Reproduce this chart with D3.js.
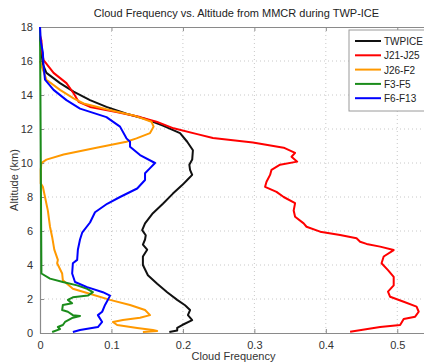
<!DOCTYPE html>
<html>
<head>
<meta charset="utf-8">
<script src="https://cdn.jsdelivr.net/npm/d3@7"></script>
<style>
  html, body { margin: 0; padding: 0; background: #fff; overflow: hidden; }
  svg { display: block; font-family: "Liberation Sans", Arial, sans-serif; }
</style>
</head>
<body>
<svg id="chart" width="424" height="364"></svg>
<script>
// Series names and colours, in drawing order
const seriesNames = ["TWPICE", "J21-J25", "J26-F2", "F3-F5", "F6-F13"];
const seriesColors = ["#111111", "#ff0000", "#ff9900", "#1a8c1a", "#0000ff"];

// Altitude (km) / cloud frequency profiles
const twpiceAlt = [17.4, 16.5, 15.8, 15.3, 14.7, 14.2, 13.7, 13.3, 12.9, 12.57, 12.2, 11.76, 11.25, 10.75, 10.2, 9.9, 9.6, 9.3, 9.0, 8.7, 8.2, 7.6, 7.05, 6.45, 6.05, 5.75, 5.5, 5.2, 4.9, 4.5, 4.0, 3.4, 2.9, 2.4, 1.95, 1.63, 1.35, 1.05, 0.76, 0.47, 0.3, 0.15, 0.06];
const twpiceVal = [0, 0.002, 0.004, 0.009, 0.028, 0.047, 0.07, 0.093, 0.121, 0.149, 0.172, 0.196, 0.206, 0.214, 0.213, 0.209, 0.21, 0.213, 0.206, 0.199, 0.186, 0.172, 0.158, 0.147, 0.143, 0.148, 0.147, 0.144, 0.15, 0.144, 0.144, 0.151, 0.164, 0.178, 0.192, 0.203, 0.21, 0.207, 0.213, 0.199, 0.192, 0.192, 0.181];

const j21Alt = [17.5, 17.2, 16.5, 16.05, 15.3, 14.7, 14.1, 13.6, 13.3, 13.0, 12.7, 12.43, 12.04, 11.7, 11.47, 11.2, 10.9, 10.6, 10.37, 10.08, 9.9, 9.6, 9.3, 8.9, 8.6, 8.3, 8.0, 7.64, 7.2, 6.84, 6.45, 6.25, 5.96, 5.76, 5.57, 5.37, 5.24, 5.08, 4.88, 4.5, 4.1, 3.7, 3.3, 2.8, 2.43, 2.13, 1.84, 1.55, 1.25, 0.96, 0.82, 0.47, 0.35, 0.08];
const j21Val = [0, 0.002, 0.003, 0.005, 0.019, 0.037, 0.047, 0.054, 0.07, 0.107, 0.14, 0.163, 0.187, 0.22, 0.242, 0.298, 0.341, 0.357, 0.352, 0.36, 0.336, 0.324, 0.322, 0.317, 0.315, 0.331, 0.341, 0.357, 0.355, 0.357, 0.369, 0.373, 0.392, 0.42, 0.443, 0.448, 0.457, 0.476, 0.495, 0.481, 0.478, 0.487, 0.495, 0.495, 0.487, 0.49, 0.509, 0.527, 0.53, 0.525, 0.509, 0.504, 0.476, 0.434];

const j26Alt = [16.0, 15.5, 14.9, 14.3, 13.8, 13.5, 13.16, 12.8, 12.43, 12.14, 11.76, 11.45, 11.25, 10.9, 10.5, 10.2, 10.0, 9.6, 8.8, 8.6, 8.0, 7.2, 6.25, 5.65, 4.9, 4.3, 4.1, 3.5, 3.1, 2.6, 2.35, 1.95, 1.65, 1.35, 1.05, 0.9, 0.76, 0.65, 0.47, 0.3, 0.18, 0.12, 0.06];
const j26Val = [0, 0.004, 0.009, 0.028, 0.047, 0.061, 0.093, 0.131, 0.156, 0.159, 0.154, 0.135, 0.121, 0.079, 0.033, 0.009, 0.002, 0.001, 0.001, 0.004, 0.007, 0.011, 0.014, 0.017, 0.02, 0.025, 0.024, 0.031, 0.032, 0.046, 0.066, 0.098, 0.126, 0.147, 0.154, 0.14, 0.116, 0.102, 0.108, 0.136, 0.158, 0.164, 0.144];

const f3Alt = [18.0, 3.5, 3.2, 3.0, 2.8, 2.6, 2.4, 2.2, 2.1, 1.95, 1.75, 1.65, 1.35, 1.25, 1.05, 1.0, 0.9, 0.65, 0.47, 0.35, 0.23, 0.06];
const f3Val = [0, 0.002, 0.014, 0.032, 0.052, 0.066, 0.074, 0.067, 0.046, 0.039, 0.045, 0.032, 0.031, 0.039, 0.046, 0.056, 0.046, 0.035, 0.032, 0.025, 0.028, 0.017];

const f6Alt = [18.0, 17.2, 16.5, 15.7, 14.9, 14.3, 13.7, 13.2, 12.7, 12.14, 11.45, 11.25, 10.96, 10.47, 10.0, 9.7, 9.4, 9.0, 8.5, 8.0, 7.6, 7.1, 6.5, 5.9, 5.5, 4.9, 4.3, 4.1, 3.5, 3.0, 2.7, 2.4, 2.2, 1.95, 1.65, 1.25, 1.05, 0.65, 0.35, 0.18, 0.06];
const f6Val = [0, 0.001, 0.004, 0.005, 0.007, 0.019, 0.037, 0.056, 0.093, 0.112, 0.121, 0.126, 0.126, 0.14, 0.161, 0.154, 0.147, 0.147, 0.136, 0.112, 0.094, 0.077, 0.07, 0.059, 0.056, 0.053, 0.052, 0.046, 0.045, 0.049, 0.066, 0.088, 0.098, 0.095, 0.091, 0.087, 0.081, 0.087, 0.081, 0.056, 0.046];

const seriesAlts = [twpiceAlt, j21Alt, j26Alt, f3Alt, f6Alt];
const seriesVals = [twpiceVal, j21Val, j26Val, f3Val, f6Val];

// Axis ticks and labels
const xTicks = [0, 0.1, 0.2, 0.3, 0.4, 0.5];
const yTicks = [0, 2, 4, 6, 8, 10, 12, 14, 16, 18];
const titleText = "Cloud Frequency vs. Altitude from MMCR during TWP-ICE";
const xLabel = "Cloud Frequency";
const yLabel = "Altitude (km)";

const margin = { left: 40, top: 27 };
const plotW = 393, plotH = 306;

const svg = d3.select("#chart");
const g = svg.append("g").attr("transform", `translate(${margin.left},${margin.top})`);

const x = d3.scaleLinear().domain([0, 0.55]).range([0, plotW]);
const y = d3.scaleLinear().domain([0, 18]).range([plotH, 0]);

// Dotted grid
g.append("g").selectAll("line").data(xTicks.slice(1)).join("line")
  .attr("x1", d => x(d)).attr("x2", d => x(d)).attr("y1", 0).attr("y2", plotH)
  .attr("stroke", "#c8c8c8").attr("stroke-width", 1).attr("stroke-dasharray", "1,3");
g.append("g").selectAll("line").data(yTicks.slice(1, -1)).join("line")
  .attr("x1", 0).attr("x2", plotW).attr("y1", d => y(d)).attr("y2", d => y(d))
  .attr("stroke", "#c8c8c8").attr("stroke-width", 1).attr("stroke-dasharray", "1,3");

// Axes with inward ticks
const axisColor = "#8a8a8a";
const xAxis = g.append("g").attr("transform", `translate(0,${plotH})`)
  .call(d3.axisBottom(x).tickValues(xTicks).tickFormat(d => d === 0 ? "0" : d3.format(".1f")(d))
    .tickSizeInner(-4).tickSizeOuter(0).tickPadding(8));
const yAxis = g.append("g")
  .call(d3.axisLeft(y).tickValues(yTicks).tickFormat(d3.format("d"))
    .tickSizeInner(-4).tickSizeOuter(0).tickPadding(7));
const xTop = g.append("g")
  .call(d3.axisTop(x).tickValues(xTicks).tickFormat("").tickSizeInner(-4).tickSizeOuter(0));
[xAxis, yAxis, xTop].forEach(a => {
  a.select(".domain").attr("stroke", axisColor).attr("stroke-width", 1.2);
  a.selectAll(".tick line").attr("stroke", axisColor);
  a.selectAll(".tick text").attr("fill", "#333").style("font-size", "11px")
    .style("font-family", '"Liberation Sans", Arial, sans-serif');
});

// Profiles
const line = d3.line().x(d => x(d[0])).y(d => y(d[1]));
seriesNames.forEach((name, i) => {
  const pts = seriesAlts[i].map((a, k) => [seriesVals[i][k], a]);
  g.append("path").datum(pts)
    .attr("d", line)
    .attr("fill", "none")
    .attr("stroke", seriesColors[i])
    .attr("stroke-width", 2)
    .attr("stroke-linejoin", "round");
});

// Title and axis labels
svg.append("text").attr("x", margin.left + plotW / 2).attr("y", 17)
  .attr("text-anchor", "middle").attr("fill", "#222").style("font-size", "11px").text(titleText);
svg.append("text").attr("x", margin.left + plotW / 2 - 3).attr("y", 360)
  .attr("text-anchor", "middle").attr("fill", "#333").style("font-size", "11px").text(xLabel);
svg.append("text").attr("transform", `translate(18,${margin.top + plotH / 2}) rotate(-90)`)
  .attr("text-anchor", "middle").attr("fill", "#333").style("font-size", "11px").text(yLabel);

// Legend
const lg = svg.append("g").attr("transform", "translate(349,30)");
lg.append("rect").attr("x", 0).attr("y", 0).attr("width", 84).attr("height", 81)
  .attr("fill", "#fff").attr("stroke", "#9a9a9a").attr("stroke-width", 1);
seriesNames.forEach((name, i) => {
  const yy = 11 + i * 14.3;
  lg.append("line").attr("x1", 6).attr("x2", 32).attr("y1", yy).attr("y2", yy)
    .attr("stroke", seriesColors[i]).attr("stroke-width", 2);
  lg.append("text").attr("x", 35).attr("y", yy + 4).attr("fill", "#222")
    .style("font-size", "10px").text(name);
});
</script>
</body>
</html>
